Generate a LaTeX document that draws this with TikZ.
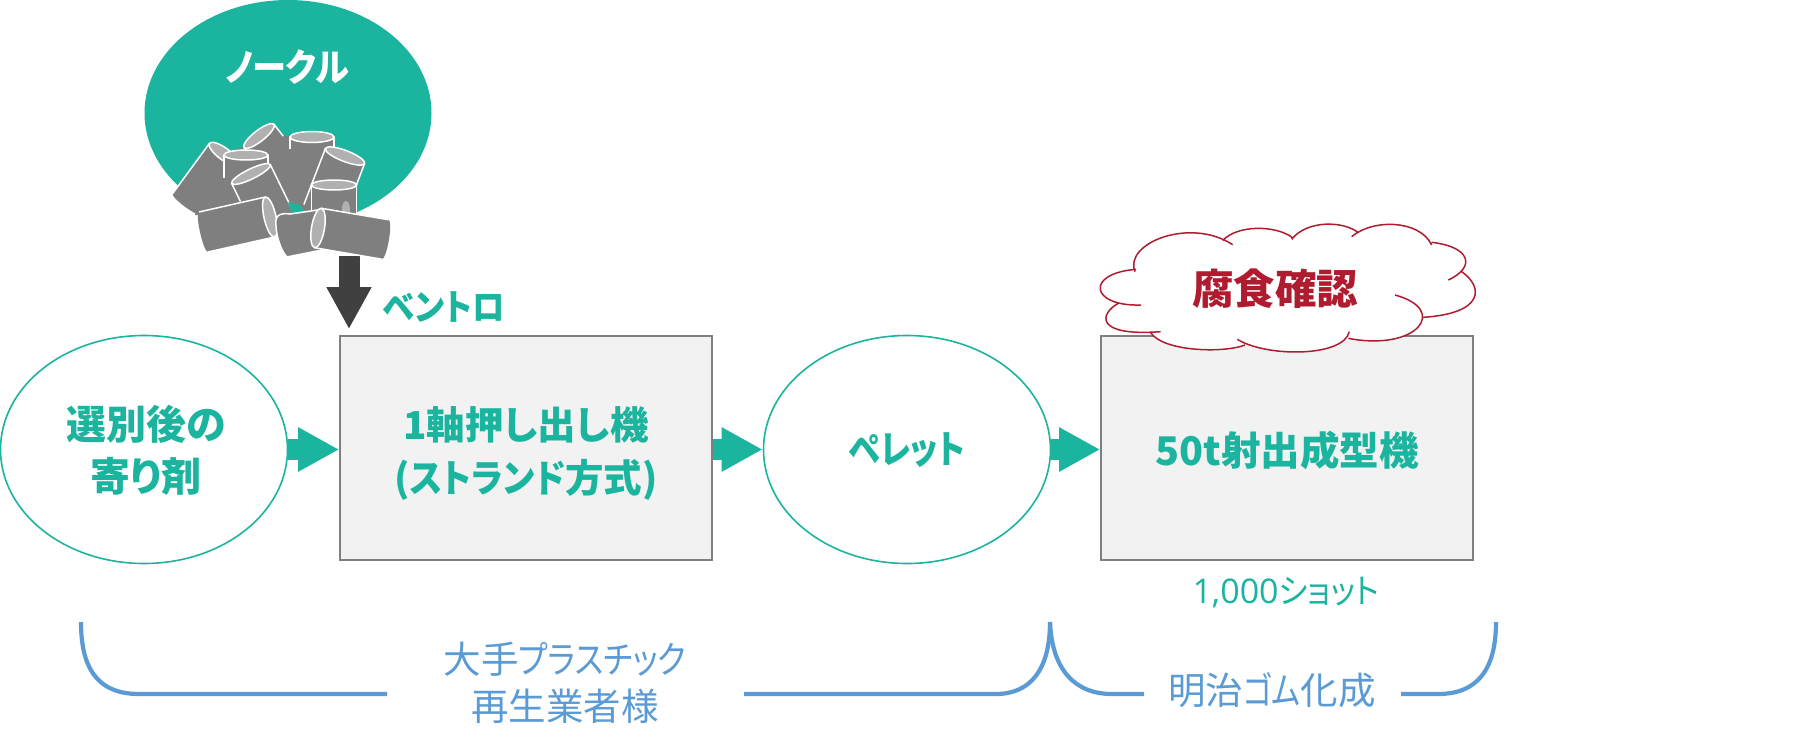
\documentclass[tikz,border=0pt]{standalone}
\usepackage{fontspec}
\usetikzlibrary{arrows.meta,shapes.geometric}
\setmainfont{Noto Sans CJK JP}[RawFeature=+palt]
\newfontfamily\latn{Open Sans}
\definecolor{teal1}{HTML}{1BB49F}
\definecolor{blue1}{HTML}{5B9BD5}
\definecolor{red1}{HTML}{AF1C30}
\definecolor{gray1}{HTML}{7F7F7F}
\definecolor{gray2}{HTML}{B0B0B0}
\definecolor{boxf}{HTML}{F2F2F2}
\definecolor{dark1}{HTML}{404040}
\newcommand{\kn}[2][.88]{\scalebox{#1}[1]{#2}}
\newcommand{\cyl}[8]{%
 \begin{scope}[shift={(#1,#2)},rotate=#3]
  \fill[gray1] (0,-#5) -- (#4,-#5) .. controls ({#4+0.8*#6},-#5) and ({#4+0.8*#6},#5) .. (#4,#5) -- (0,#5) -- cycle;
  \draw[white,line width=1.5pt] (0,#5) -- ++(#7,0);
  \draw[white,line width=1.5pt] (0,-#5) -- ++(#8,0);
  \draw[white,fill=gray2,line width=1.5pt] (0,0) ellipse [x radius=#6,y radius=#5];
 \end{scope}}
\tikzset{
 x=1pt,y=-1pt,
 flowell/.style={shape=ellipse,draw=teal1,fill=white,minimum width=287pt,minimum height=228pt,inner sep=0pt,line width=1.6pt},
 proc/.style={draw=gray1,fill=boxf,line width=1.7pt,minimum width=372pt,minimum height=224pt,inner sep=0pt},
 tlabel/.style={text=teal1,font=\fontsize{38.5}{53}\selectfont\bfseries,align=center,inner sep=0pt},
 blabel/.style={text=blue1,font=\fontsize{37.5}{47.5}\selectfont,align=center,inner sep=0pt},
 flow/.style={teal1,line width=21pt,-{Triangle[length=41pt,width=41.5pt]}},
 feed/.style={dark1,line width=21pt,-{Triangle[length=42pt,width=42pt]}},
 brk/.style={blue1,line width=4.2pt},
 cloudline/.style={red1,line width=1.5pt},
}
\begin{document}
\begin{tikzpicture}
\useasboundingbox (0,0) rectangle (1812,750);
\fill[white] (0,0) rectangle (1812,750);
% source ellipse
\node[shape=ellipse,fill=teal1,minimum width=287pt,minimum height=226pt,inner sep=0pt] (nurdle) at (288,113) {};
\node[text=white,font=\fontsize{38}{44}\selectfont\bfseries,inner sep=0pt] (nurdlet) at (287,67) {\kn[.9]{ノークル}};
% main flow
\node[flowell] (sorted) at (144,449.5) {};
\node[tlabel,font=\fontsize{40}{52}\selectfont\bfseries] (sortedt) at (146,450) {選別後の\\寄り剤};
\node[proc] (ext) at (526,448) {};
\node[tlabel] (extt) at (526,453) {1軸押し出し機\\({\kn[.9]{ストランド}}方式)};
\node[flowell] (pellet) at (907,449.5) {};
\node[tlabel] (pellett) at (907,450) {\kn[.84]{ペレット}};
\node[proc] (mold) at (1287,448) {};
\node[tlabel,font=\fontsize{39.5}{53}\selectfont\bfseries] (moldt) at (1287,450) {50t射出成型機};
% feed arrow
\coordinate (feedtop) at (349,256);
\draw[feed,shorten >=6pt] (feedtop) -- (ext.north west -| feedtop);
% nurdles
\fill[gray1] (227,152) -- (243,147) -- (280,135) -- (312,140) -- (350,165) -- (330,215) -- (195,215) -- (200,190) -- cycle;
\cyl{224}{154}{233.7}{62}{18}{6}{62}{0}
\cyl{259}{136}{-52}{75}{19}{5.5}{20}{15}
\cyl{312}{137}{-90}{72}{22}{5.5}{12}{22}
\cyl{345}{156}{249}{60}{21}{5.5}{60}{60}
\cyl{334}{185}{-90}{33}{22.5}{5}{33}{33}
\fill[gray2] (346,209) ellipse [x radius=4,y radius=8];
\cyl{246}{155}{-90}{30}{22}{5}{23}{10}
\cyl{251}{174}{-64}{52}{21.5}{5}{20}{50}
\fill[teal1] (288,202) -- (300,205) -- (304,211) -- (292,213) -- cycle;
\cyl{270}{217}{192.7}{68}{20.5}{6}{68}{68}
\draw[white,fill=gray1,line width=1.5pt] (276,220) .. controls (277,214) and (282,213) .. (290,214) -- (318,210) -- (322,250) -- (287,257) .. controls (280,250) and (275,232) .. (276,220) -- cycle;
\cyl{318}{228}{-9.7}{68}{20}{6.5}{68}{68}
% flow arrows
\draw[flow] (sorted.east) -- (sorted.east -| ext.west);
\draw[flow] (ext.east |- pellet.west) -- (pellet.west);
\draw[flow] (pellet.east) -- (pellet.east -| mold.west);
% cloud
\begin{scope}[shift={(1080,210)},x=1pt/3,y=-1pt/3]
 \def\cloudlobes{
  (165,185) .. controls (130,100) and (330,20) .. (458,104)
  (428,92) .. controls (470,44) and (590,44) .. (640,85)
  (635,88) .. controls (680,30) and (790,32) .. (835,68)
  (815,80) .. controls (880,25) and (1020,30) .. (1055,105)
  (1055,97) .. controls (1170,110) and (1190,170) .. (1105,210)
  (1145,185) .. controls (1210,230) and (1215,310) .. (1030,322)
  (945,255) .. controls (1110,300) and (1010,425) .. (805,385)
  (808,365) .. controls (790,442) and (560,442) .. (472,388)
  (495,405) .. controls (430,430) and (250,425) .. (212,368)
  (242,365) .. controls (40,380) and (60,310) .. (115,280)
  (183,285) .. controls (30,290) and (15,190) .. (168,178)}
 \fill[white] \cloudlobes;
 \fill[white] (165,185) -- (458,104) -- (640,85) -- (835,68) -- (1055,105) -- (1105,210) -- (1030,322) -- (805,385) -- (470,400) -- (240,392) -- (212,368) -- (115,280) -- cycle;
 \draw[cloudline] \cloudlobes;
\end{scope}
\node[text=red1,font=\fontsize{41.5}{48}\selectfont\bfseries,inner sep=0pt] (check) at (1275,289) {腐食確認};
% labels
\node[text=teal1,font=\fontsize{36}{42}\selectfont\bfseries,inner sep=0pt] (vent) at (444,307) {\kn[.9]{ベントロ}};
\node[text=teal1,font=\fontsize{34}{40}\selectfont,inner sep=0pt] (shots) at (1286,593) {{\latn 1,000}\kn[.92]{ショット}};
\node[blabel] (recycler) at (565,683) {大手\kn[.85]{プラスチック}\\再生業者様};
\node[blabel] (meiji) at (1272,690) {明治\kn[.82]{ゴム}化成};
% brackets
\coordinate (b1s) at (81,622);
\coordinate (b1e) at (387,694);
\coordinate (b2s) at (744,694);
\coordinate (b2e) at (1050,622);
\coordinate (b3s) at (1144,694);
\coordinate (b4s) at (1401,694);
\coordinate (b4e) at (1496,622);
\draw[brk] (b1s) .. controls (81,665) and (95,694) .. (139,694) -- (b1e);
\draw[brk] (b2s) -- (996,694) .. controls (1030,694) and (1050,670) .. (b2e);
\draw[brk] (b2e) .. controls (1052,670) and (1075,694) .. (1112,694) -- (b3s);
\draw[brk] (b4s) -- (1438,694) .. controls (1477,694) and (1496,670) .. (b4e);
\end{tikzpicture}
\end{document}
